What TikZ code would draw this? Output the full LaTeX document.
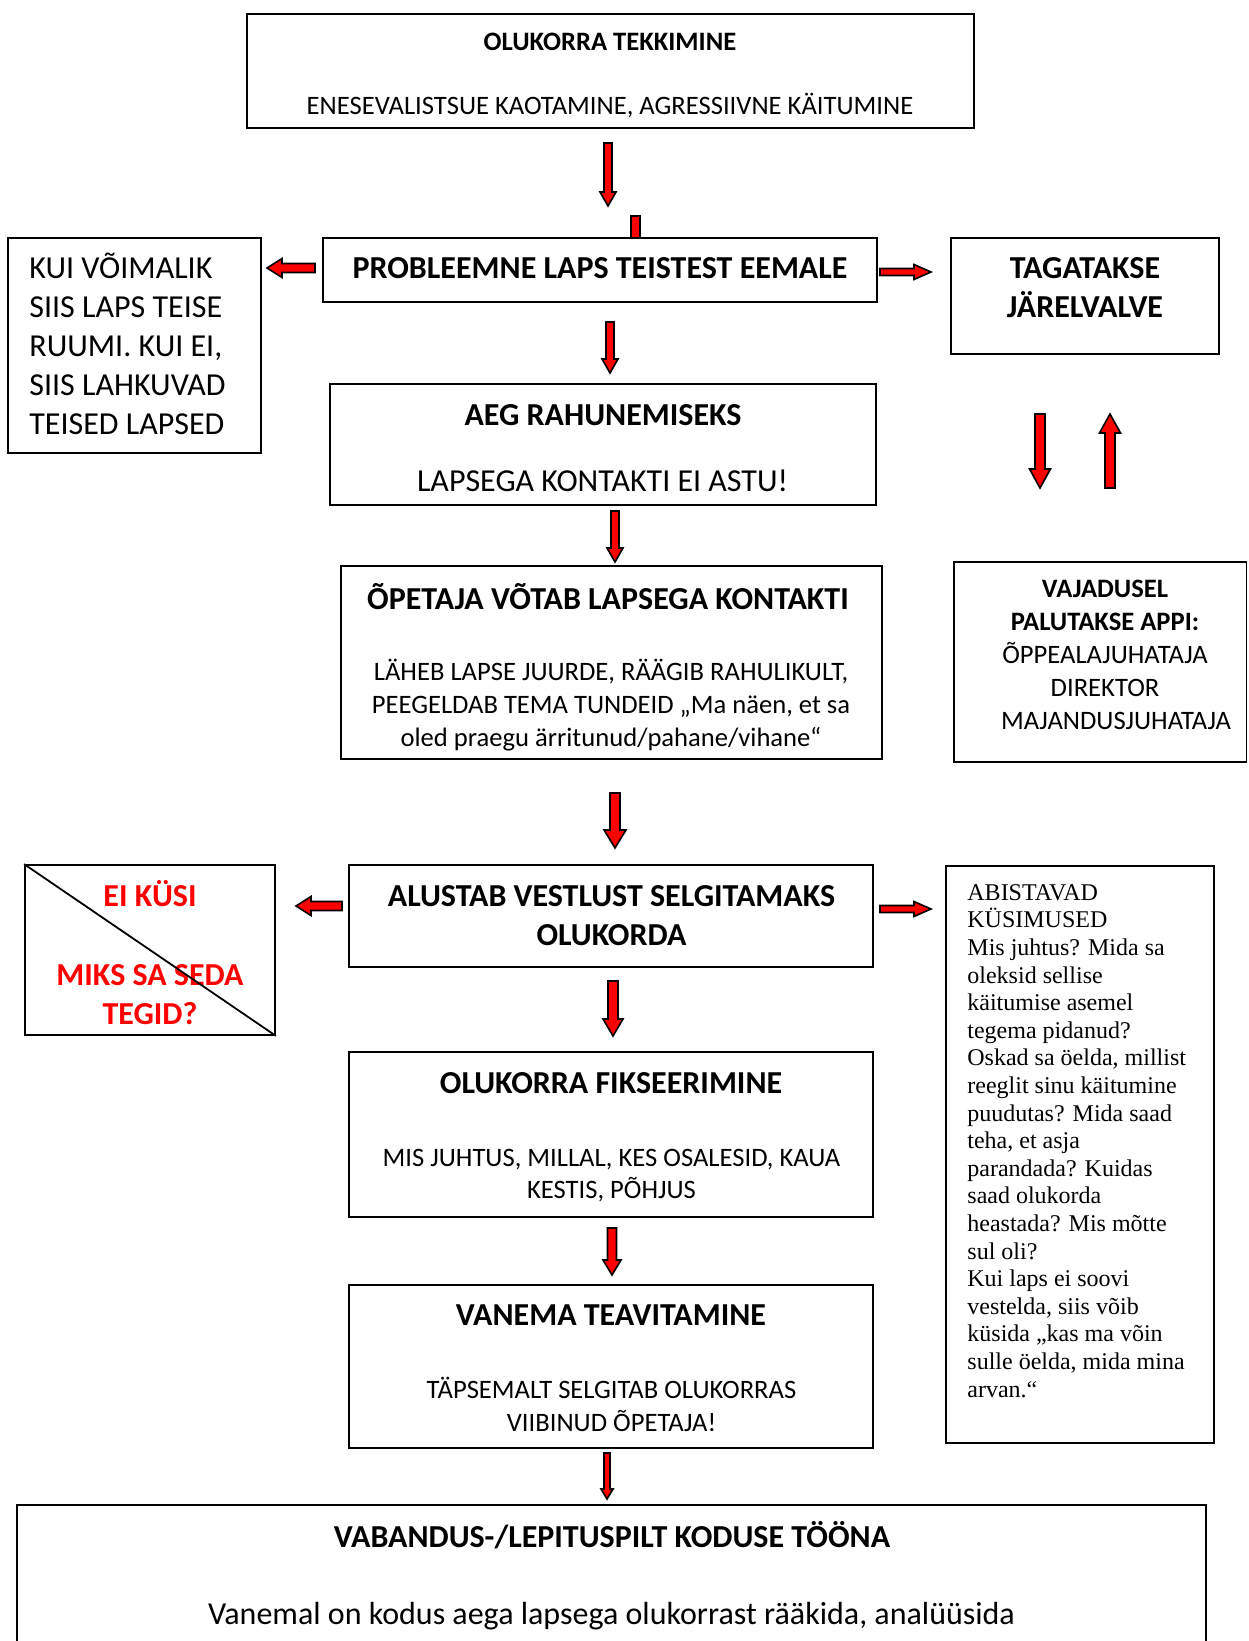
\documentclass[tikz,border=0pt]{standalone}
\usepackage{fontspec}
\setmainfont{Carlito}
\newfontfamily\timesfont{Liberation Serif}
\usetikzlibrary{calc}

\newcommand{\blockarr}[5]{%
  \coordinate (ba-h) at ($(#2)!#5!(#1)$);
  \filldraw[arrowfill] ($(#1)!#3!90:(#2)$) -- ($(ba-h)!#3!90:(#2)$) -- ($(ba-h)!#4!90:(#2)$)
    -- (#2) -- ($(ba-h)!#4!-90:(#2)$) -- ($(ba-h)!#3!-90:(#2)$) -- ($(#1)!#3!-90:(#2)$) -- cycle;}

\begin{document}
\begin{tikzpicture}[x=0.5pt,y=-0.5pt,
  box/.style={draw, line width=0.9pt, inner sep=0pt},
  txt/.style={inner sep=0pt, align=center, anchor=base},
  ttl/.style={txt, font=\fontsize{16}{19.5}\selectfont\bfseries},
  big/.style={txt, font=\fontsize{16}{19.5}\selectfont},
  sml/.style={txt, font=\fontsize{13.3}{16.5}\selectfont},
  smlb/.style={txt, font=\fontsize{13.3}{16.5}\selectfont\bfseries},
  arrowfill/.style={fill=red, draw=black, line width=0.8pt, line join=miter}]
\useasboundingbox (0,0) rectangle (1248,1641);
\clip (0,0) rectangle (1248,1641);

\node[box, minimum width=363.5pt, minimum height=57pt] (top) at (610.5,71) {};
\node[smlb] (top-t) at (610,50.5) {OLUKORRA TEKKIMINE};
\node[sml] (top-b) at (610,114.5) {ENESEVALISTSUE KAOTAMINE, AGRESSIIVNE KÄITUMINE};

\node[box, minimum width=277pt, minimum height=32pt] (probl) at (600,270) {};
\node[ttl] (probl-t) at (600,279) {PROBLEEMNE LAPS TEISTEST EEMALE};

\node[box, minimum width=126.5pt, minimum height=107.5pt] (kui) at (134.5,345.5) {};
\node[big, align=left, anchor=base west] (kui-t) at (29,435)
  {KUI VÕIMALIK\\SIIS LAPS TEISE\\RUUMI. KUI EI,\\SIIS LAHKUVAD\\TEISED LAPSED};

\node[box, minimum width=134pt, minimum height=58pt] (taga) at (1085,296) {};
\node[ttl] (taga-t) at (1085,318) {TAGATAKSE\\JÄRELVALVE};

\node[box, minimum width=273pt, minimum height=60.5pt] (aeg) at (603,444.5) {};
\node[ttl] (aeg-t) at (603,426) {AEG RAHUNEMISEKS};
\node[big] (aeg-b) at (602.5,492) {LAPSEGA KONTAKTI EI ASTU!};

\node[box, minimum width=270.5pt, minimum height=96.5pt] (opet) at (611.5,662.5) {};
\node[ttl] (opet-t) at (608,609) {ÕPETAJA VÕTAB LAPSEGA KONTAKTI};
\node[sml] (opet-b) at (611,746.5)
  {LÄHEB LAPSE JUURDE, RÄÄGIB RAHULIKULT,\\PEEGELDAB TEMA TUNDEID „Ma näen, et sa\\oled praegu ärritunud/pahane/vihane“};

\node[box, minimum width=146.25pt, minimum height=100pt] (vaj) at (1100.25,662) {};
\node[smlb] (vaj-t) at (1105,630.5) {VAJADUSEL\\PALUTAKSE APPI:};
\node[sml] (vaj-b) at (1105,729.5) {ÕPPEALAJUHATAJA\\DIREKTOR\\\hspace*{11pt}MAJANDUSJUHATAJA};

\node[box, minimum width=262pt, minimum height=51pt] (alus) at (611,916) {};
\node[ttl] (alus-t) at (611.5,945) {ALUSTAB VESTLUST SELGITAMAKS\\OLUKORDA};

\node[box, minimum width=125pt, minimum height=85pt] (eikys) at (150,950) {};
\node[ttl, text=red] (eikys-t) at (150,1024) {EI KÜSI\\[20pt]MIKS SA SEDA\\TEGID?};
\draw[line width=0.9pt] (eikys.north west) -- (eikys.south east);

\node[box, minimum width=134pt, minimum height=288.5pt] (abist) at (1080,1154.5) {};
\node[txt, align=left, anchor=base west, font=\timesfont\fontsize{12}{13.8}\selectfont] (abist-t) at (967,1397)
  {ABISTAVAD\\KÜSIMUSED\\Mis juhtus? Mida sa\\oleksid sellise\\käitumise asemel\\tegema pidanud?\\Oskad sa öelda, millist\\reeglit sinu käitumine\\puudutas? Mida saad\\teha, et asja\\parandada? Kuidas\\saad olukorda\\heastada? Mis mõtte\\sul oli?\\Kui laps ei soovi\\vestelda, siis võib\\küsida „kas ma võin\\sulle öelda, mida mina\\arvan.“};

\node[box, minimum width=262pt, minimum height=82.5pt] (fiks) at (611,1134.5) {};
\node[ttl] (fiks-t) at (611,1093) {OLUKORRA FIKSEERIMINE};
\node[sml, font=\fontsize{13.3}{15.7}\selectfont] (fiks-b) at (611.5,1198) {MIS JUHTUS, MILLAL, KES OSALESID, KAUA\\KESTIS, PÕHJUS};

\node[box, minimum width=262pt, minimum height=81.5pt] (van) at (611,1366.5) {};
\node[ttl] (van-t) at (611,1325) {VANEMA TEAVITAMINE};
\node[sml] (van-b) at (611.5,1431.5) {TÄPSEMALT SELGITAB OLUKORRAS\\VIIBINUD ÕPETAJA!};

\node[box, minimum width=594.5pt, minimum height=97.5pt] (vab) at (611.5,1602.5) {};
\node[ttl] (vab-t) at (612,1547) {VABANDUS-/LEPITUSPILT KODUSE TÖÖNA};
\node[big] (vab-b) at (611.5,1624.5) {Vanemal on kodus aega lapsega olukorrast rääkida, analüüsida};

\filldraw[arrowfill] (631,216) rectangle (640,238);

\foreach \n/\xa/\ya/\xb/\yb/\sw/\hw/\hl in {
  a1/608/143/608/206/2/4/7,
  a2/315/268/267/268/2.25/4.75/7.5,
  a3/880/272/931/272/1.75/3.75/8.5,
  a4/610/322/610/373/2/4/7,
  a5/615/511/615/562/2/4/7,
  a6/1040/414/1040/488/2.5/5.25/9.5,
  a7/1110/488/1110/414/2.5/5.25/9.5,
  a8/615/793/615/848/2.5/5.5/9,
  a9/342/906/296/906/2.25/4.75/7.5,
  a10/880/909/931/909/1.75/3.75/8.5,
  a11/613/981/613/1036/2.5/5/8.5,
  a12/612/1228/612/1275/2.25/4.5/7.5,
  a13/607/1453/607/1499/1.5/3/5} {
  \coordinate (\n s) at (\xa,\ya);
  \coordinate (\n e) at (\xb,\yb);
  \blockarr{\n s}{\n e}{\sw pt}{\hw pt}{\hl pt}
}
\end{tikzpicture}
\end{document}
